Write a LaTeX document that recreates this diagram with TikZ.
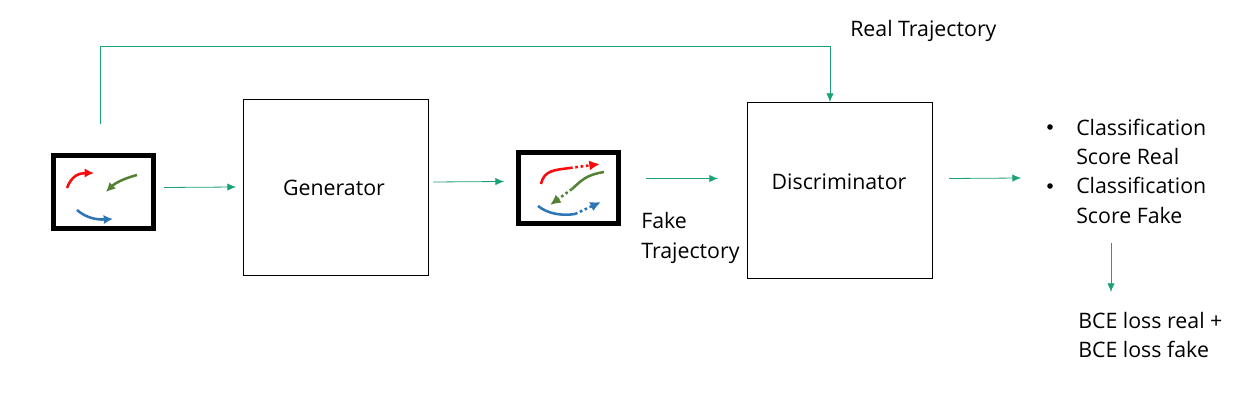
\documentclass[tikz,border=0pt]{standalone}
\usepackage{fontspec}
\setmainfont{Open Sans}
\usetikzlibrary{arrows.meta,positioning}
\definecolor{flow}{RGB}{28,160,120}
\definecolor{tred}{RGB}{250,10,10}
\definecolor{tgreen}{RGB}{84,130,53}
\definecolor{tblue}{RGB}{46,117,182}
\tikzset{
  x=0.75pt,y=-0.75pt,
  block/.style={draw=black,line width=0.6pt,minimum width=139pt,minimum height=132pt,inner sep=0pt,fill=white},
  flowline/.style={draw=flow,line width=0.6pt,-{Latex[length=6.5pt,width=5.5pt]}},
  frame/.style={draw=black,line width=3.6pt,fill=white,inner sep=0pt},
  label/.style={font=\fontsize{16}{22}\selectfont,inner sep=0pt,align=left,anchor=west,text=black},
  traj/.style={line width=1.9pt,-{Latex[length=7pt,width=7pt]}},
  trajs/.style={line width=1.9pt},
  trajd/.style={line width=1.9pt,dash pattern=on 2pt off 2pt,-{Latex[length=8pt,width=7.5pt]}}
}
\begin{document}
\begin{tikzpicture}
\useasboundingbox (0,0) rectangle (1243,402);
% blocks
\node[block] (gen) at (336,187.5) {};
\node[block] (disc) at (840,190.5) {};
\node[label,anchor=center] (gent) at (334,188) {Generator};
\node[label,anchor=center] (disct) at (839,181.5) {Discriminator};
% frames
\node[frame,minimum width=75.5pt,minimum height=55pt] (f1) at (103.5,192) {};
\node[frame,minimum width=75.5pt,minimum height=53.5pt] (f2) at (568.5,188) {};
% left frame trajectories
\coordinate (a1) at (67,188);
\coordinate (a2) at (94,173);
\draw[traj,tred] (a1) .. controls (71,177) and (78,173) .. (a2);
\coordinate (b1) at (137,175);
\coordinate (b2) at (106,192);
\draw[traj,tgreen] (b1) .. controls (122,179) and (114,184) .. (b2);
\coordinate (c1) at (77,210);
\coordinate (c2) at (113,219);
\draw[traj,tblue] (c1) .. controls (85,217) and (95,220) .. (c2);
% right frame trajectories
\coordinate (d1) at (541,184);
\coordinate (d2) at (570,168);
\coordinate (d3) at (600,164);
\draw[trajs,tred] (d1) .. controls (544,170) and (555,170) .. (d2);
\draw[trajd,tred] (d2) -- (d3);
\coordinate (e1) at (604,172);
\coordinate (e2) at (572,189);
\coordinate (e3) at (550,205);
\draw[trajs,tgreen] (e1) .. controls (586,175) and (582,180) .. (e2);
\draw[trajd,tgreen] (e2) -- (e3);
\coordinate (g1) at (538,206);
\coordinate (g2) at (575,214);
\coordinate (g3) at (601,202);
\draw[trajs,tblue] (g1) .. controls (548,214) and (562,216) .. (g2);
\draw[trajd,tblue] (g2) -- (g3);
% connectors
\coordinate (r0) at (100,124);
\coordinate (r1) at (100,46);
\coordinate (r2) at (830,46);
\coordinate (rend) at (830,102);
\draw[flowline] (r0) -- (r1) -- (r2) -- (rend);
\coordinate (s1) at (164,187.5);
\coordinate (s2) at (236,187);
\draw[flowline] (s1) -- (s2);
\coordinate (s3) at (433,182);
\coordinate (s4) at (504,181.5);
\draw[flowline] (s3) -- (s4);
\coordinate (s5) at (646,178.5);
\coordinate (s6) at (718,178.5);
\draw[flowline] (s5) -- (s6);
\coordinate (s7) at (949,178.5);
\coordinate (s8) at (1021,178);
\draw[flowline] (s7) -- (s8);
\coordinate (s9) at (1111,243);
\coordinate (s10) at (1111,292);
\draw[flowline] (s9) -- (s10);
% labels
\node[label] (real) at (850,31) {Real Trajectory};
\node[label] (fake) at (641,238) {Fake\\Trajectory};
\node[label] (b1t) at (1076,171) {Classification\\Score Real\\[0pt]Classification\\Score Fake};
\fill[black] (1050,127) circle[radius=2.8];
\fill[black] (1050,186) circle[radius=2.8];
\node[label] (loss) at (1078,335) {BCE loss real +\\BCE loss fake};
\end{tikzpicture}
\end{document}
